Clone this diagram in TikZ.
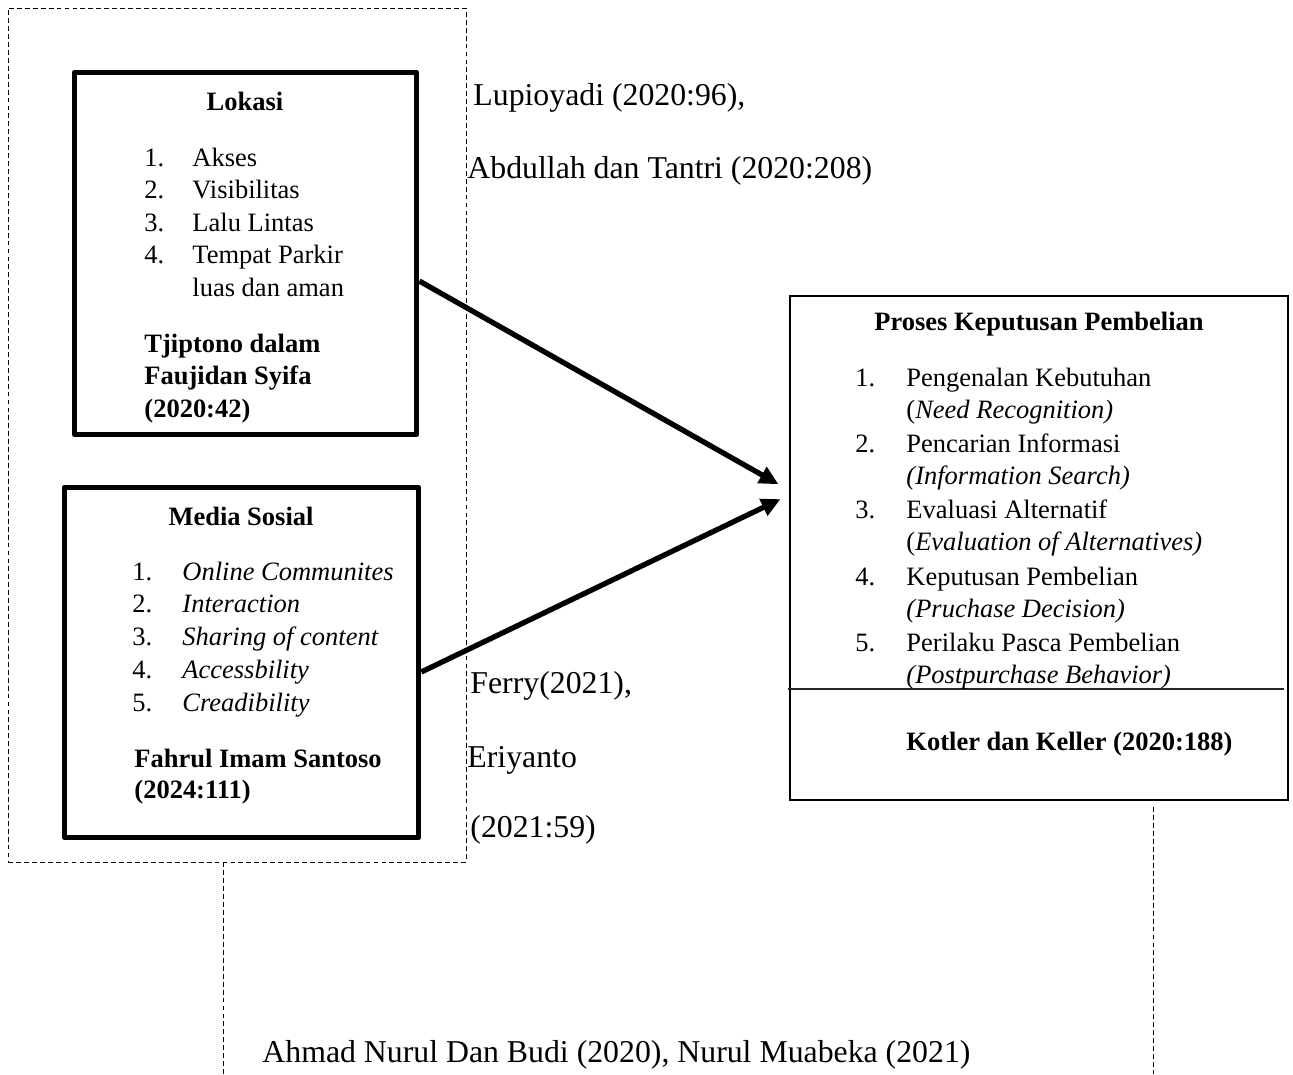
\documentclass[tikz,border=0pt]{standalone}
\usepackage{fontspec}
\setmainfont{Liberation Serif}
\usetikzlibrary{arrows.meta}
\newcommand{\pxu}{0.453pt}

\begin{document}
\begin{tikzpicture}[x=\pxu,y=-\pxu]
\tikzstyle{every node}=[font=\fontsize{12}{14.7}\selectfont, inner sep=0pt]
\tikzstyle{judul}=[font=\fontsize{12}{14.7}\selectfont\bfseries]
\tikzstyle{isi}=[anchor=base west]
\tikzstyle{sumber}=[font=\fontsize{14.4}{17}\selectfont, anchor=base west]
\tikzstyle{tebal}=[draw, line width=2.6pt, line join=round]
\tikzstyle{tipis}=[draw, line width=0.7pt]
\tikzstyle{putus}=[line width=0.45pt, dash pattern=on 2.2pt off 1.4pt]
\tikzstyle{panah}=[line width=2.4pt, -{Triangle[length=8.6pt,width=8pt]}]
\useasboundingbox (0,0) rectangle (1293,1074);

% kotak
\node[draw, putus, minimum width=458*\pxu, minimum height=854*\pxu] (grp) at (237,435) {};
\node[tebal, minimum width=342*\pxu, minimum height=362*\pxu] (lokasi) at (245.5,253.5) {};
\node[tebal, minimum width=354*\pxu, minimum height=350*\pxu] (medsos) at (241.5,662.5) {};
\node[tipis, minimum width=498*\pxu, minimum height=504*\pxu] (proses) at (1039,548) {};
\draw[line width=0.75pt, black!85] (788,689) -- (1284,689);

% lokasi
\node[judul, anchor=base] (lkjudul) at (245,110) {Lokasi};
\foreach \t [count=\i] in {Akses, Visibilitas, Lalu Lintas, Tempat Parkir} {
  \node[isi] (lknum\i) at (144,{166+32.6*(\i-1)}) {\i.};
  \node[isi] (lk\i) at (192,{166+32.6*(\i-1)}) {\t};
}
\node[isi] (lk5) at (192,296) {luas dan aman};
\node[judul, isi] (lkref1) at (144,352) {Tjiptono dalam};
\node[judul, isi] (lkref2) at (144,384) {Faujidan Syifa};
\node[judul, isi] (lkref3) at (144,417) {(2020:42)};

% media sosial
\node[judul, anchor=base] (msjudul) at (241,525) {Media Sosial};
\foreach \t [count=\i] in {Online Communites, Interaction, Sharing of content, Accessbility, Creadibility} {
  \node[isi] (msnum\i) at (132,{580+32.9*(\i-1)}) {\i.};
  \node[isi] (ms\i) at (182,{580+32.9*(\i-1)}) {\textit{\t}};
}
\node[judul, isi] (msref1) at (134,767) {Fahrul Imam Santoso};
\node[judul, isi] (msref2) at (134,798) {(2024:111)};

% proses keputusan pembelian
\node[judul, anchor=base] (pkjudul) at (1039,330) {Proses Keputusan Pembelian};
\foreach \t/\e [count=\i] in {Pengenalan Kebutuhan/{(\textit{Need Recognition)}},
    Pencarian Informasi/{\textit{(Information Search)}},
    Evaluasi Alternatif/{(\textit{Evaluation of Alternatives)}},
    Keputusan Pembelian/{\textit{(Pruchase Decision)}},
    Perilaku Pasca Pembelian/{\textit{(Postpurchase Behavior)}}} {
  \node[isi] (pknum\i) at (855,{386+66.4*(\i-1)}) {\i.};
  \node[isi] (pk\i) at (906,{386+66.4*(\i-1)}) {\t};
  \node[isi] (pke\i) at (906,{418+66.4*(\i-1)}) {\e};
}
\node[judul, isi] (pkref) at (906,750) {Kotler dan Keller (2020:188)};

% sumber
\node[sumber] (lupi) at (473,105) {Lupioyadi (2020:96),};
\node[sumber] (abdul) at (467,178) {Abdullah dan Tantri (2020:208)};
\node[sumber] (ferry) at (470,693) {Ferry(2021),};
\node[sumber] (eri) at (467,767) {Eriyanto};
\node[sumber] (eritahun) at (470,837) {(2021:59)};
\node[sumber] (ahmad) at (262,1062) {Ahmad Nurul Dan Budi (2020), Nurul Muabeka (2021)};

% panah
\draw[panah, shorten >=5.6pt] (lokasi.-9.3) -- (proses.167.4);
\draw[panah, shorten >=4.4pt] (medsos.-3.3) -- (proses.168.6);

% garis putus bawah
\coordinate (lowL) at (223,1074);
\coordinate (lowR) at (1153,1074);
\draw[putus] (grp.south -| lowL) -- (lowL);
\draw[putus, shorten <=3pt] (proses.south -| lowR) -- (lowR);
\end{tikzpicture}
\end{document}
